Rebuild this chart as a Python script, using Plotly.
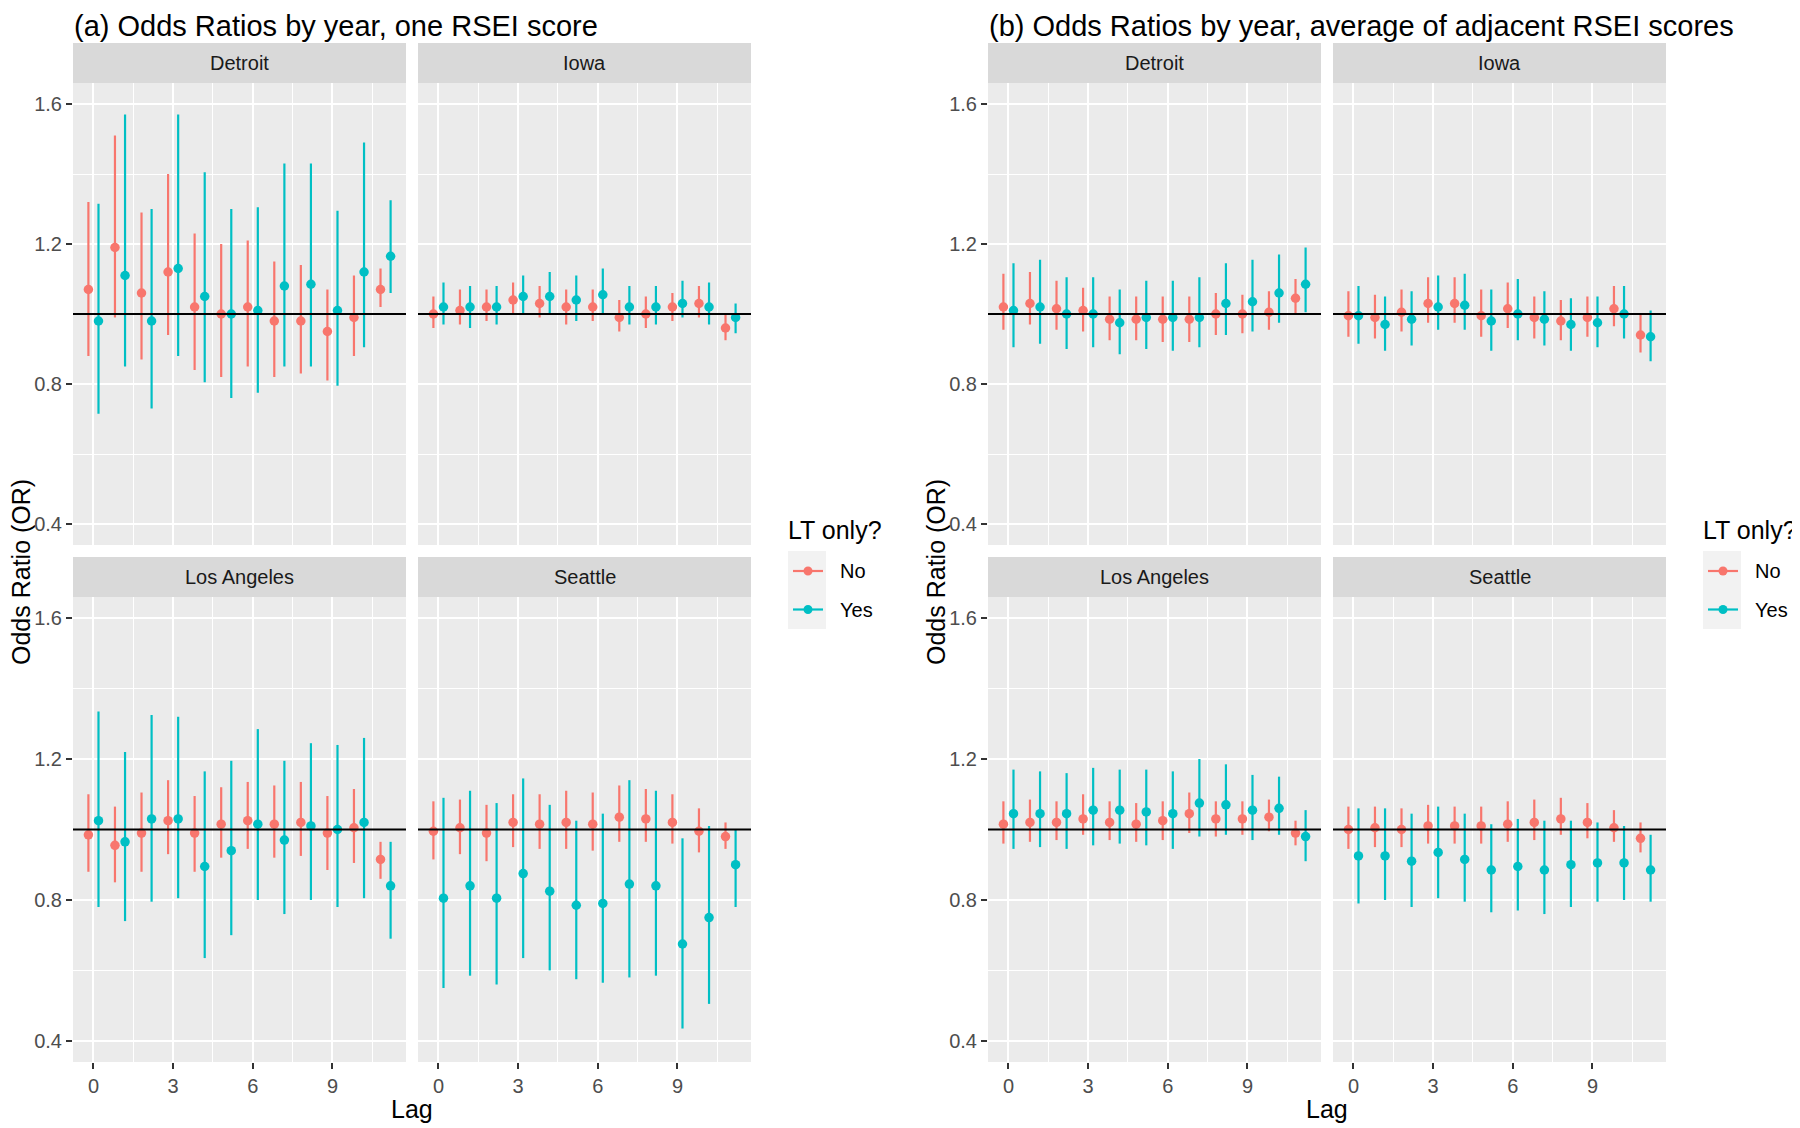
import plotly.graph_objects as go

# the page body has an 8px margin, so the figure is drawn 8px in from the corner
OFF = 8
W, H = 1800 - OFF, 1128 - OFF
FONT = "Liberation Sans, Arial, sans-serif"

lags = list(range(12))
groups = ["No", "Yes"]
group_colors = {"No": "#F8766D", "Yes": "#00BFC4"}
group_dodge = {"No": -0.19, "Yes": 0.19}
cities = ["Detroit", "Iowa", "Los Angeles", "Seattle"]
panel_titles = [
    "(a) Odds Ratios by year, one RSEI score",
    "(b) Odds Ratios by year, average of adjacent RSEI scores",
]
x_ticks = [0, 3, 6, 9]
x_minor = [1.5, 4.5, 7.5, 10.5]
y_ticks = [0.4, 0.8, 1.2, 1.6]
y_minor = [0.6, 1.0, 1.4]
x_range = [-0.77, 11.77]
y_range = [0.34, 1.66]

# (odds ratio, lower CI, upper CI) for each lag 0..11
a_detroit_no = [(1.07, 0.88, 1.32), (1.19, 0.99, 1.51), (1.06, 0.87, 1.29), (1.12, 0.94, 1.40),
                (1.02, 0.84, 1.23), (1.00, 0.82, 1.20), (1.02, 0.85, 1.21), (0.98, 0.82, 1.15),
                (0.98, 0.83, 1.14), (0.95, 0.81, 1.07), (0.99, 0.88, 1.11), (1.07, 1.02, 1.13)]
a_detroit_yes = [(0.98, 0.715, 1.315), (1.11, 0.85, 1.57), (0.98, 0.73, 1.30), (1.13, 0.88, 1.57),
                 (1.05, 0.805, 1.405), (1.00, 0.76, 1.30), (1.01, 0.775, 1.305), (1.08, 0.85, 1.43),
                 (1.085, 0.85, 1.43), (1.01, 0.795, 1.295), (1.12, 0.905, 1.49), (1.165, 1.06, 1.325)]
a_iowa_no = [(1.00, 0.96, 1.05), (1.01, 0.97, 1.07), (1.02, 0.98, 1.07), (1.04, 1.00, 1.09),
             (1.03, 0.99, 1.08), (1.02, 0.97, 1.07), (1.02, 0.98, 1.07), (0.99, 0.95, 1.04),
             (1.00, 0.96, 1.05), (1.02, 0.98, 1.06), (1.03, 0.99, 1.08), (0.96, 0.925, 1.00)]
a_iowa_yes = [(1.02, 0.97, 1.09), (1.02, 0.96, 1.08), (1.02, 0.97, 1.08), (1.05, 1.00, 1.11),
              (1.05, 1.00, 1.12), (1.04, 0.98, 1.11), (1.055, 1.00, 1.13), (1.02, 0.97, 1.08),
              (1.02, 0.97, 1.08), (1.03, 0.99, 1.095), (1.02, 0.97, 1.09), (0.99, 0.945, 1.03)]
a_la_no = [(0.985, 0.88, 1.10), (0.955, 0.85, 1.065), (0.99, 0.88, 1.105), (1.025, 0.93, 1.14),
           (0.99, 0.88, 1.095), (1.015, 0.92, 1.12), (1.025, 0.945, 1.135), (1.015, 0.92, 1.125),
           (1.02, 0.925, 1.135), (0.99, 0.885, 1.095), (1.005, 0.905, 1.115), (0.915, 0.86, 0.965)]
a_la_yes = [(1.025, 0.78, 1.335), (0.965, 0.74, 1.22), (1.03, 0.795, 1.325), (1.03, 0.805, 1.32),
            (0.895, 0.635, 1.165), (0.94, 0.70, 1.195), (1.015, 0.80, 1.285), (0.97, 0.76, 1.195),
            (1.01, 0.80, 1.245), (1.00, 0.78, 1.24), (1.02, 0.805, 1.26), (0.84, 0.69, 0.965)]
a_seattle_no = [(0.995, 0.915, 1.08), (1.005, 0.93, 1.085), (0.99, 0.91, 1.07), (1.02, 0.95, 1.10),
                (1.015, 0.945, 1.10), (1.02, 0.945, 1.11), (1.015, 0.94, 1.105), (1.035, 0.965, 1.125),
                (1.03, 0.965, 1.115), (1.02, 0.96, 1.10), (0.995, 0.935, 1.06), (0.98, 0.945, 1.02)]
a_seattle_yes = [(0.805, 0.55, 1.09), (0.84, 0.585, 1.11), (0.805, 0.56, 1.075), (0.875, 0.635, 1.145),
                 (0.825, 0.60, 1.07), (0.785, 0.575, 1.025), (0.79, 0.565, 1.045), (0.845, 0.58, 1.14),
                 (0.84, 0.585, 1.11), (0.675, 0.435, 0.975), (0.75, 0.505, 1.01), (0.90, 0.78, 1.00)]

b_detroit_no = [(1.02, 0.955, 1.115), (1.03, 0.97, 1.12), (1.015, 0.955, 1.095), (1.01, 0.95, 1.075),
                (0.985, 0.925, 1.05), (0.985, 0.925, 1.05), (0.985, 0.92, 1.05), (0.985, 0.92, 1.05),
                (1.00, 0.94, 1.06), (1.00, 0.945, 1.055), (1.005, 0.955, 1.065), (1.045, 1.00, 1.10)]
b_detroit_yes = [(1.01, 0.905, 1.145), (1.02, 0.915, 1.155), (1.00, 0.90, 1.105), (1.00, 0.905, 1.105),
                 (0.975, 0.885, 1.07), (0.99, 0.90, 1.095), (0.99, 0.895, 1.095), (0.99, 0.905, 1.105),
                 (1.03, 0.94, 1.145), (1.035, 0.95, 1.155), (1.06, 0.975, 1.17), (1.085, 1.005, 1.19)]
b_iowa_no = [(0.995, 0.935, 1.065), (0.99, 0.93, 1.055), (1.005, 0.95, 1.07), (1.03, 0.975, 1.105),
             (1.03, 0.975, 1.105), (0.995, 0.935, 1.07), (1.015, 0.96, 1.09), (0.99, 0.93, 1.05),
             (0.98, 0.925, 1.04), (0.99, 0.935, 1.05), (1.015, 0.965, 1.08), (0.94, 0.89, 1.00)]
b_iowa_yes = [(0.995, 0.915, 1.08), (0.97, 0.895, 1.05), (0.985, 0.91, 1.065), (1.02, 0.955, 1.11),
              (1.025, 0.955, 1.115), (0.98, 0.895, 1.07), (1.00, 0.925, 1.10), (0.985, 0.91, 1.065),
              (0.97, 0.895, 1.045), (0.975, 0.905, 1.05), (1.00, 0.93, 1.08), (0.935, 0.865, 1.01)]
b_la_no = [(1.015, 0.96, 1.08), (1.02, 0.965, 1.085), (1.02, 0.97, 1.08), (1.03, 0.985, 1.10),
           (1.02, 0.97, 1.08), (1.015, 0.965, 1.075), (1.025, 0.97, 1.08), (1.045, 0.99, 1.105),
           (1.03, 0.98, 1.08), (1.03, 0.985, 1.08), (1.035, 0.995, 1.085), (0.99, 0.955, 1.025)]
b_la_yes = [(1.045, 0.945, 1.17), (1.045, 0.95, 1.165), (1.045, 0.945, 1.16), (1.055, 0.955, 1.175),
            (1.055, 0.96, 1.17), (1.05, 0.955, 1.17), (1.045, 0.945, 1.165), (1.075, 0.98, 1.20),
            (1.07, 0.985, 1.185), (1.055, 0.97, 1.155), (1.06, 0.985, 1.15), (0.98, 0.91, 1.055)]
b_seattle_no = [(1.00, 0.945, 1.065), (1.005, 0.95, 1.065), (1.00, 0.95, 1.06), (1.01, 0.96, 1.07),
                (1.01, 0.96, 1.065), (1.01, 0.96, 1.065), (1.015, 0.965, 1.08), (1.02, 0.97, 1.085),
                (1.03, 0.985, 1.09), (1.02, 0.975, 1.075), (1.005, 0.965, 1.055), (0.975, 0.935, 1.02)]
b_seattle_yes = [(0.925, 0.79, 1.06), (0.925, 0.80, 1.06), (0.91, 0.78, 1.045), (0.935, 0.805, 1.065),
                 (0.915, 0.795, 1.045), (0.885, 0.765, 1.015), (0.895, 0.77, 1.03), (0.885, 0.76, 1.025),
                 (0.90, 0.78, 1.025), (0.905, 0.795, 1.02), (0.905, 0.80, 1.01), (0.885, 0.795, 0.985)]

panels = [
    {"Detroit": (a_detroit_no, a_detroit_yes), "Iowa": (a_iowa_no, a_iowa_yes),
     "Los Angeles": (a_la_no, a_la_yes), "Seattle": (a_seattle_no, a_seattle_yes)},
    {"Detroit": (b_detroit_no, b_detroit_yes), "Iowa": (b_iowa_no, b_iowa_yes),
     "Los Angeles": (b_la_no, b_la_yes), "Seattle": (b_seattle_no, b_seattle_yes)},
]

# facet geometry in window pixels (panel a); panel b is shifted right
COLS = [(73, 406), (418, 751)]
ROWS = [(83, 545), (597, 1062)]
STRIPS = [(43, 83), (557, 597)]
PANEL_DX = [0, 915]


def fx(px):
    return (px - OFF) / W


def fy(px):
    return 1 - (px - OFF) / H


fig = go.Figure()
shapes = []
annotations = []
axes = {}

k = 0
for p, data in enumerate(panels):
    dx = PANEL_DX[p]
    for i, city in enumerate(cities):
        k += 1
        row, col = divmod(i, 2)
        x0, x1 = COLS[col][0] + dx, COLS[col][1] + dx
        y0, y1 = ROWS[row]
        xid = "x" if k == 1 else f"x{k}"
        yid = "y" if k == 1 else f"y{k}"

        for g, series in zip(groups, data[city]):
            odds = [s[0] for s in series]
            lo = [s[1] for s in series]
            hi = [s[2] for s in series]
            fig.add_trace(go.Scatter(
                x=[l + group_dodge[g] for l in lags],
                y=odds,
                mode="markers",
                marker={"color": group_colors[g], "size": 9.5},
                error_y={
                    "type": "data", "symmetric": False,
                    "array": [h - o for h, o in zip(hi, odds)],
                    "arrayminus": [o - m for o, m in zip(odds, lo)],
                    "width": 0, "thickness": 2.2, "color": group_colors[g],
                },
                name=g,
                showlegend=False,
                xaxis=xid,
                yaxis=yid,
                hovertemplate=f"{city}, LT only? {g}<br>Lag %{{x:.0f}}: OR %{{y:.3f}}<extra></extra>",
            ))

        bottom = row == 1
        left = col == 0
        axes["xaxis" if k == 1 else f"xaxis{k}"] = dict(
            domain=[fx(x0), fx(x1)], anchor=yid, range=x_range,
            tickmode="array", tickvals=x_ticks, showticklabels=bottom,
            ticks="outside" if bottom else "", ticklen=6, tickwidth=1.5, tickcolor="#333333",
            tickfont={"size": 20, "color": "#4D4D4D", "family": FONT},
            showgrid=True, gridcolor="white", gridwidth=2.2, zeroline=False, showline=False,
            minor={"tickvals": x_minor, "showgrid": True, "gridcolor": "white", "gridwidth": 1.1, "ticks": ""},
        )
        axes["yaxis" if k == 1 else f"yaxis{k}"] = dict(
            domain=[fy(y1), fy(y0)], anchor=xid, range=y_range,
            tickmode="array", tickvals=y_ticks, ticktext=[f"{v:.1f}" for v in y_ticks],
            showticklabels=left, ticks="outside" if left else "", ticklen=6, tickwidth=1.5,
            tickcolor="#333333", tickfont={"size": 20, "color": "#4D4D4D", "family": FONT},
            showgrid=True, gridcolor="white", gridwidth=2.2, zeroline=False, showline=False,
            minor={"tickvals": y_minor, "showgrid": True, "gridcolor": "white", "gridwidth": 1.1, "ticks": ""},
        )

        # reference line at OR = 1
        shapes.append(dict(type="line", xref=f"{xid} domain", yref=yid, x0=0, x1=1, y0=1, y1=1,
                           line={"color": "black", "width": 2}, layer="above"))
        # facet strip
        s0, s1 = STRIPS[row]
        shapes.append(dict(type="rect", xref="paper", yref="paper", x0=fx(x0), x1=fx(x1),
                           y0=fy(s1), y1=fy(s0), fillcolor="#D9D9D9", line={"width": 0}, layer="below"))
        annotations.append(dict(text=city, xref="paper", yref="paper", x=fx((x0 + x1) / 2),
                                y=fy((s0 + s1) / 2), showarrow=False, xanchor="center", yanchor="middle",
                                font={"size": 20, "color": "#1A1A1A", "family": FONT}))

    # panel title and axis titles
    annotations.append(dict(text=panel_titles[p], xref="paper", yref="paper", x=fx(72 + dx), y=1,
                            showarrow=False, xanchor="left", yanchor="top",
                            font={"size": 29, "color": "black", "family": FONT}))
    annotations.append(dict(text="Odds Ratio (OR)", xref="paper", yref="paper", x=fx(21 + dx), y=fy(572),
                            showarrow=False, textangle=-90, xanchor="center", yanchor="middle",
                            font={"size": 25, "color": "black", "family": FONT}))
    annotations.append(dict(text="Lag", xref="paper", yref="paper", x=fx(412 + dx), y=fy(1109),
                            showarrow=False, xanchor="center", yanchor="middle",
                            font={"size": 25, "color": "black", "family": FONT}))

    # legend, drawn by hand like ggplot's key
    annotations.append(dict(text="LT only?", xref="paper", yref="paper", x=fx(786 + dx), y=fy(530),
                            showarrow=False, xanchor="left", yanchor="middle",
                            font={"size": 25, "color": "black", "family": FONT}))
    shapes.append(dict(type="rect", xref="paper", yref="paper", x0=fx(788 + dx), x1=fx(826 + dx),
                       y0=fy(629), y1=fy(551), fillcolor="#F2F2F2", line={"width": 0}))
    for j, g in enumerate(groups):
        ky = 571 + 38.5 * j
        shapes.append(dict(type="line", xref="paper", yref="paper", x0=fx(793 + dx), x1=fx(823 + dx),
                           y0=fy(ky), y1=fy(ky), line={"color": group_colors[g], "width": 2.2}))
        shapes.append(dict(type="circle", xref="paper", yref="paper", x0=fx(803.5 + dx), x1=fx(812.5 + dx),
                           y0=fy(ky + 4.5), y1=fy(ky - 4.5), fillcolor=group_colors[g],
                           line={"color": group_colors[g], "width": 0}))
        annotations.append(dict(text=g, xref="paper", yref="paper", x=fx(838 + dx), y=fy(ky),
                                showarrow=False, xanchor="left", yanchor="middle",
                                font={"size": 20, "color": "black", "family": FONT}))

fig.update_layout(
    width=W, height=H,
    margin={"l": 0, "r": 0, "t": 0, "b": 0},
    paper_bgcolor="white",
    plot_bgcolor="#EBEBEB",
    font={"family": FONT},
    shapes=shapes,
    annotations=annotations,
    showlegend=False,
    **axes,
)

fig.write_html("out.html")
